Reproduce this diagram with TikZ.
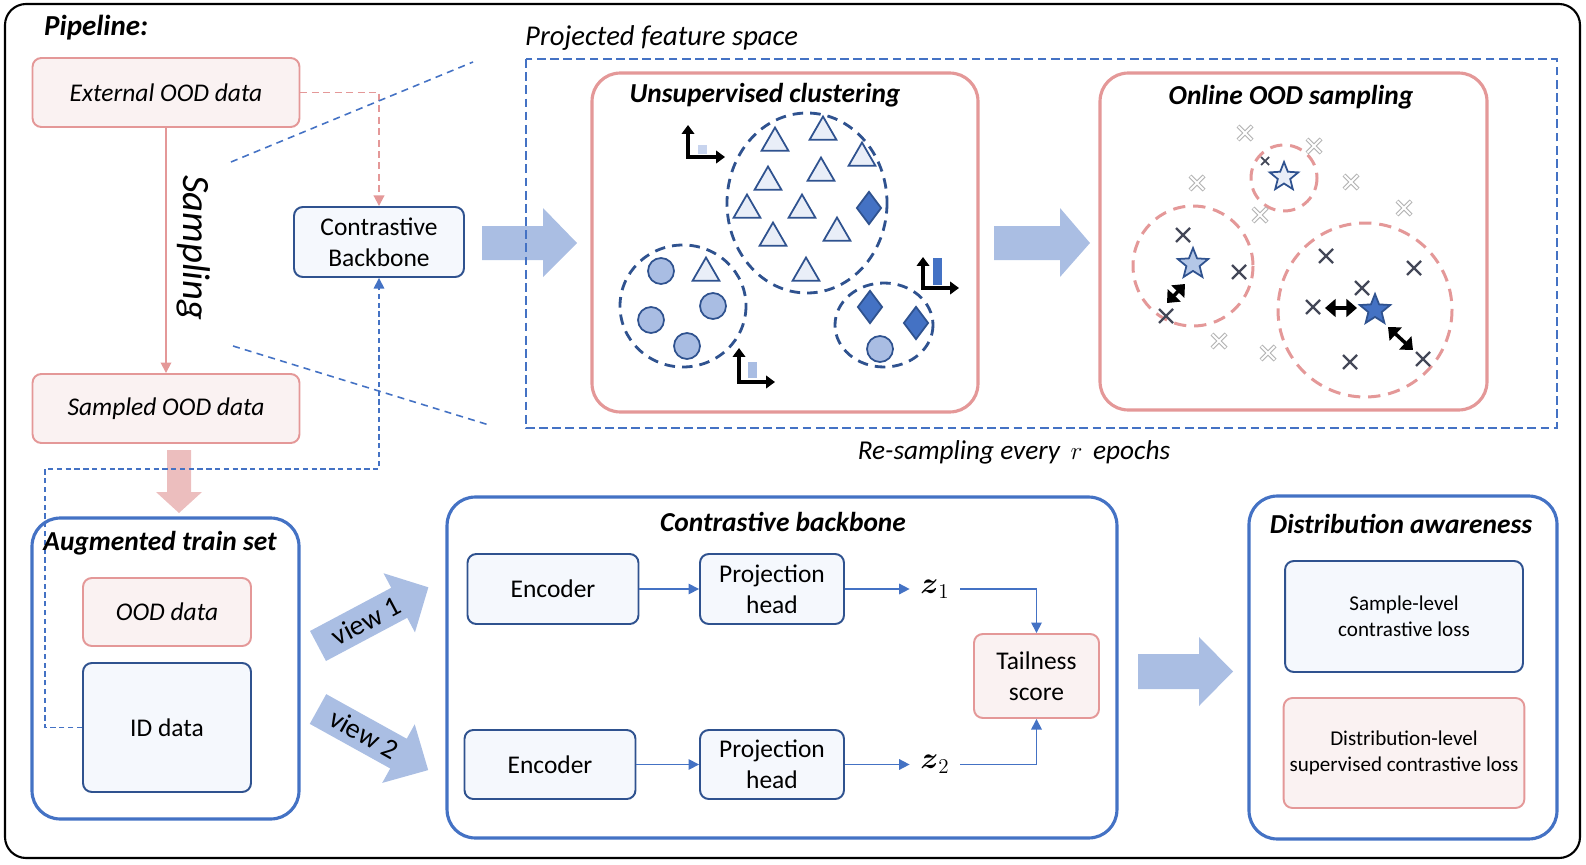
\documentclass[tikz,border=0pt]{standalone}
\usepackage{fontspec}
\setmainfont{Carlito}
\usepackage{amsmath}
\usetikzlibrary{arrows.meta,shapes.geometric}
\definecolor{darkblue}{RGB}{47,82,143}
\definecolor{midblue}{RGB}{68,114,196}
\definecolor{arrowblue}{RGB}{170,190,227}
\definecolor{bluefill}{RGB}{245,248,253}
\definecolor{pinkline}{RGB}{228,152,152}
\definecolor{pinkfill}{RGB}{250,242,242}
\definecolor{pinkarrow}{RGB}{236,190,190}
\definecolor{trifill}{RGB}{233,238,248}
\definecolor{circfill}{RGB}{169,189,227}
\definecolor{starfill}{RGB}{180,199,231}
\definecolor{barlight}{RGB}{200,212,238}
\definecolor{darkx}{RGB}{68,72,88}
\tikzset{
  pinkbox/.style={draw=pinkline, fill=pinkfill, line width=1.1pt, rounded corners=5pt, align=center},
  bluebox/.style={draw=darkblue, fill=bluefill, line width=1.1pt, rounded corners=5pt, align=center},
  panel/.style={draw=midblue, line width=1.8pt, rounded corners=16pt},
  pinkpanel/.style={draw=pinkline, line width=1.8pt, rounded corners=16pt},
  ttl/.style={font=\fontsize{15.6}{18}\selectfont\bfseries\itshape},
  txt/.style={font=\fontsize{14.5}{17.4}\selectfont},
  itx/.style={font=\fontsize{14.5}{17.4}\selectfont\itshape},
  smalltxt/.style={font=\fontsize{12}{14.6}\selectfont},
  conn/.style={midblue, line width=0.9pt},
  clus/.style={draw=darkblue, line width=1.6pt, dash pattern=on 6pt off 4pt},
  pdash/.style={draw=pinkline, line width=1.7pt, dash pattern=on 7pt off 4.5pt},
  ptri/.style={regular polygon, regular polygon sides=3, draw=darkblue, fill=trifill, line width=1pt, inner sep=0pt, minimum size=0.62cm},
  pdia/.style={diamond, draw=darkblue, fill=midblue, line width=1pt, inner sep=0pt, minimum width=0.5cm, minimum height=0.66cm},
  pdot/.style={circle, draw=darkblue, fill=circfill, line width=1pt, inner sep=0pt, minimum size=0.52cm},
  pstar/.style={star, star points=5, star point ratio=2.3, draw=darkblue, line width=1pt, inner sep=0pt, minimum size=0.64cm},
  axis/.style={arrows={Triangle[width=7pt,length=5pt]-Triangle[width=7pt,length=5pt]}, line width=1.8pt},
  dbl/.style={arrows={Triangle[width=10pt,length=6pt]-Triangle[width=10pt,length=6pt]}, line width=2pt},
  xdark/.style={darkx, line width=1.3pt},
  xlight/.style={black!30, line width=2.4pt},
}

\begin{document}
\begin{tikzpicture}[x=0.02cm, y=-0.02cm, >={Triangle[width=6pt,length=6pt]}]
\useasboundingbox (0,0) rectangle (1586,865);
\draw[line width=1.2pt, rounded corners=12pt] (5,4) rectangle (1580,858);

%pipeline on the left
\node[anchor=west, font=\fontsize{16.5}{19}\selectfont\bfseries\itshape] (pipe) at (38,28) {Pipeline:};
\node[pinkbox, itx, minimum width=5.34cm, minimum height=1.38cm] (ext) at (166,92.5) {External OOD data};
\node[pinkbox, itx, minimum width=5.34cm, minimum height=1.38cm] (samp) at (166,408.5) {Sampled OOD data};
\node[bluebox, txt, minimum width=3.4cm, minimum height=1.4cm] (cb) at (379,242) {Contrastive\\Backbone};
\draw[pinkline, line width=1pt, ->] (ext) -- (samp);
\node[rotate=-90, font=\fontsize{22}{26}\selectfont\itshape] (smp) at (194,248) {Sampling};
\draw[pinkline, line width=1.1pt, dash pattern=on 4pt off 2.5pt, ->] (ext.east) -| (cb.north);

%projected feature space
\fill[arrowblue] (482,226) -- (543,226) -- (543,208) -- (577,243) -- (543,277) -- (543,260) -- (482,260) -- cycle;
\draw[midblue, line width=1.5pt, dash pattern=on 5pt off 2.5pt] (526,59) rectangle (1557,428);
\node[anchor=west, font=\fontsize{16.3}{19}\selectfont\itshape] (pfs) at (519,38) {Projected feature space};
\draw[midblue, line width=0.9pt, dash pattern=on 4pt off 3pt] (231,162) -- (473,62);
\draw[midblue, line width=0.9pt, dash pattern=on 4pt off 3pt] (233,346) -- (489,425);
\node[font=\fontsize{15.5}{18}\selectfont\itshape] (resamp) at (1014,452) {Re-sampling every \,$r$\, epochs};

%unsupervised clustering
\node[pinkpanel, fill=white, minimum width=7.72cm, minimum height=6.78cm] (uc) at (785,242.5) {};
\node[ttl] (uct) at (765,95) {Unsupervised clustering};
\draw[clus] (807,203) ellipse [x radius=80, y radius=90];
\draw[clus] (683,306) ellipse [x radius=63, y radius=61];
\draw[clus] (884,325) ellipse [x radius=49, y radius=42];
\foreach \p [count=\i] in {(775,143),(823,132),(862,158),(768,182),(821,173),(747,210),(802,210),(773,238),(837,233),(806,273),(706,273)}
  \node[ptri] (t\i) at \p {};
\node[pdia] (d1) at (869,208) {};
\node[pdia] (d2) at (870,307) {};
\node[pdia] (d3) at (916,323) {};
\foreach \p [count=\i] in {(661,271),(713,306),(651,320),(687,346),(880,349)}
  \node[pdot] (c\i) at \p {};
\fill[barlight] (698,145) rectangle (707,154);
\draw[axis] (688,125) -- (688,157) -- (725,157);
\fill[circfill] (748,362) rectangle (757,378);
\draw[axis] (739,348) -- (739,382) -- (775,382);
\fill[midblue] (933,258) rectangle (942,285);
\draw[axis] (923,257) -- (923,288) -- (959,288);

\fill[arrowblue] (994,226) -- (1060,226) -- (1060,208) -- (1090,243) -- (1060,277) -- (1060,260) -- (994,260) -- cycle;

%online OOD sampling
\node[pinkpanel, fill=white, minimum width=7.74cm, minimum height=6.74cm] (oo) at (1293.5,241.5) {};
\node[ttl] (oot) at (1291,97) {Online OOD sampling};
\draw[pdash] (1284,178) circle [radius=33];
\draw[pdash] (1193,266) circle [radius=60];
\draw[pdash] (1365,310) circle [radius=87];
\foreach \p in {(1245,133),(1314,146),(1197,183),(1351,182),(1260,215),(1404,208),(1219,341),(1268,353)} {
  \draw[xlight, shift={\p}] (-7,-7) -- (7,7) (-7,7) -- (7,-7);
  \draw[white, line width=1.1pt, shift={\p}] (-6.6,-6.6) -- (6.6,6.6) (-6.6,6.6) -- (6.6,-6.6);
}
\foreach \p in {(1183,235),(1239,272),(1166,316),(1326,256),(1414,268),(1362,288),(1313,307),(1350,362),(1423,359)}
  \draw[xdark, shift={\p}] (-7,-7) -- (7,7) (-7,7) -- (7,-7);
\draw[xdark, line width=1pt] (1261,157) -- (1269,165) (1261,165) -- (1269,157);
\node[pstar, fill=trifill, minimum size=0.6cm] (s1) at (1284,177) {};
\node[pstar, fill=starfill] (s2) at (1193,264) {};
\node[pstar, fill=midblue] (s3) at (1375,310) {};
\draw[dbl] (1167,303) -- (1185,284);
\draw[dbl] (1325,308) -- (1357,308);
\draw[dbl] (1388,327) -- (1413,350);

%augmented train set
\fill[pinkarrow] (167,450) -- (191,450) -- (191,492) -- (202,492) -- (179,513) -- (156,492) -- (167,492) -- cycle;
\node[panel, minimum width=5.34cm, minimum height=6.02cm] (aug) at (165.5,668.5) {};
\node[pinkbox, itx, minimum width=3.36cm, minimum height=1.36cm] (ood) at (167,612) {OOD data};
\node[bluebox, txt, minimum width=3.36cm, minimum height=2.58cm] (id) at (167,727.5) {ID data};
\draw[midblue, line width=0.9pt, dash pattern=on 3pt off 2pt, ->] (id.west) -| (45,469) -| (cb.south);
\node[ttl] (augt) at (160,543) {Augmented train set};

\begin{scope}[shift={(318,646)}, rotate=28]
  \fill[arrowblue] (0,-17) -- (92,-17) -- (92,-33.5) -- (125,0) -- (92,33.5) -- (92,17) -- (0,17) -- cycle;
\end{scope}
\node[rotate=28, inner sep=1pt, font=\fontsize{16}{19}\selectfont] (v1) at (366,621) {view 1};
\begin{scope}[shift={(318,709)}, rotate=-29]
  \fill[arrowblue] (0,-17) -- (92,-17) -- (92,-33.5) -- (126,0) -- (92,33.5) -- (92,17) -- (0,17) -- cycle;
\end{scope}
\node[rotate=-29, inner sep=1pt, font=\fontsize{16}{19}\selectfont] (v2) at (364,734) {view 2};

%contrastive backbone
\node[panel, minimum width=13.4cm, minimum height=6.82cm] (cbp) at (782,667.5) {};
\node[ttl] (cbt) at (783,522) {Contrastive backbone};
\node[bluebox, txt, minimum width=3.42cm, minimum height=1.4cm] (enc1) at (553,589) {Encoder};
\node[bluebox, txt, minimum width=2.88cm, minimum height=1.4cm] (proj1) at (772,589) {Projection\\head};
\node[bluebox, txt, minimum width=3.42cm, minimum height=1.38cm] (enc2) at (550,764.5) {Encoder};
\node[bluebox, txt, minimum width=2.88cm, minimum height=1.38cm] (proj2) at (772,764.5) {Projection\\head};
\node[minimum width=1cm, font=\fontsize{17}{20}\selectfont] (z1) at (935,589) {$\boldsymbol{z}_1$};
\node[minimum width=1cm, font=\fontsize{17}{20}\selectfont] (z2) at (935,764.5) {$\boldsymbol{z}_2$};
\node[pinkbox, txt, minimum width=2.5cm, minimum height=1.68cm] (tail) at (1036.5,676) {Tailness\\score};
\draw[conn, ->] (enc1) -- (proj1);
\draw[conn, ->] (proj1) -- (z1);
\draw[conn, ->] (z1.east) -| (tail.north);
\draw[conn, ->] (enc2) -- (proj2);
\draw[conn, ->] (proj2) -- (z2);
\draw[conn, ->] (z2.east) -| (tail.south);

\fill[arrowblue] (1138,654) -- (1199,654) -- (1199,637) -- (1233,671.5) -- (1199,706) -- (1199,689) -- (1138,689) -- cycle;

%distribution awareness
\node[panel, minimum width=6.16cm, minimum height=6.86cm] (dap) at (1403,667.5) {};
\node[ttl] (dat) at (1401,524) {Distribution awareness};
\node[bluebox, smalltxt, minimum width=4.76cm, minimum height=2.22cm] (sl) at (1404,616.5) {Sample-level\\contrastive loss};
\node[pinkbox, smalltxt, minimum width=4.76cm, minimum height=2.2cm] (dl) at (1404,753) {Distribution-level\\supervised contrastive loss};
\end{tikzpicture}
\end{document}
